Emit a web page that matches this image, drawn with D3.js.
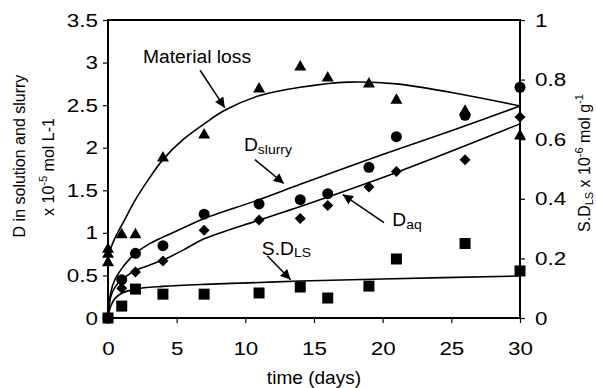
<!DOCTYPE html>
<html>
<head>
<meta charset="utf-8">
<script src="https://cdn.jsdelivr.net/npm/d3@7"></script>
<style>
  body { margin: 0; background: #fff; }
  svg { display: block; font-family: 'Liberation Sans', Arial, sans-serif; }
</style>
</head>
<body>
<div id="chart"></div>
<script>
// measured points, time in days
const matLossDays = [0, 0, 0, 1, 2, 4, 7, 11, 14, 16, 19, 21, 26, 30];
const matLossVals = [0.66, 0.76, 0.82, 0.99, 0.99, 1.89, 2.16, 2.70, 2.96, 2.83, 2.76, 2.57, 2.44, 2.15];

const sampleDays = [0, 1, 2, 4, 7, 11, 14, 16, 19, 21, 26, 30];
const slurryVals = [0, 0.45, 0.76, 0.85, 1.22, 1.34, 1.39, 1.46, 1.77, 2.13, 2.38, 2.71];
const aqVals = [0, 0.35, 0.54, 0.67, 1.03, 1.15, 1.17, 1.32, 1.54, 1.72, 1.86, 2.36];
// S.D_LS on the right axis (x 10^-6 mol/g)
const sdlsVals = [0, 0.04, 0.097, 0.08, 0.08, 0.084, 0.104, 0.067, 0.107, 0.198, 0.25, 0.158];

// fitted curves
const matLossFitDays = [0, 0.4, 1.2, 2, 3, 4, 5.5, 7, 8.5, 11, 14, 17.5, 21, 26, 30];
const matLossFitVals = [0.72, 0.9, 1.15, 1.39, 1.64, 1.86, 2.1, 2.28, 2.44, 2.61, 2.71, 2.77, 2.75, 2.62, 2.49];
const slurryFitDays = [0, 0.2, 0.5, 1, 1.5, 2, 3, 4, 5.5, 7, 11, 14, 20, 25, 30];
const slurryFitVals = [0, 0.3, 0.45, 0.58, 0.68, 0.76, 0.87, 0.95, 1.06, 1.17, 1.39, 1.57, 1.92, 2.2, 2.49];
const aqFitDays = [0, 0.2, 0.5, 1, 1.5, 2, 3, 4, 5.5, 7, 11, 14, 21, 30];
const aqFitVals = [0, 0.25, 0.36, 0.45, 0.51, 0.56, 0.62, 0.68, 0.8, 0.93, 1.15, 1.31, 1.71, 2.28];
const sdlsFitDays = [0, 0.2, 0.5, 1, 2, 4, 7, 11, 14, 20, 30];
const sdlsFitVals = [0, 0.04, 0.065, 0.083, 0.097, 0.106, 0.113, 0.119, 0.124, 0.131, 0.141];

const xTicks = [0, 5, 10, 15, 20, 25, 30];
const yLeftTicks = [0, 0.5, 1, 1.5, 2, 2.5, 3, 3.5];
const yRightTicks = [0, 0.2, 0.4, 0.6, 0.8, 1];

const width = 596;
const height = 388;
const margin = { top: 20, right: 76, bottom: 70, left: 108 };

const x = d3.scaleLinear().domain([0, 30]).range([margin.left, width - margin.right]);
const yL = d3.scaleLinear().domain([0, 3.5]).range([height - margin.bottom, margin.top]);
const yR = d3.scaleLinear().domain([0, 1]).range([height - margin.bottom, margin.top]);

const svg = d3.select('#chart').append('svg')
  .attr('width', width)
  .attr('height', height);

svg.append('defs').append('marker')
  .attr('id', 'head')
  .attr('viewBox', '0 0 10 10')
  .attr('refX', 10)
  .attr('refY', 5)
  .attr('markerWidth', 13)
  .attr('markerHeight', 10)
  .attr('markerUnits', 'userSpaceOnUse')
  .attr('orient', 'auto')
  .append('path')
  .attr('d', 'M0,0L10,5L0,10Z')
  .attr('fill', '#000');

// the figure's horizontal text is a little wider than plain Arial
function stretch(sel, k) {
  sel.each(function () {
    const t = d3.select(this);
    const ax = +t.attr('x') || 0;
    t.attr('transform', `translate(${ax * (1 - k)},0) scale(${k},1)`);
  });
}

const tickFont = 19;

// axes
const bottom = svg.append('g')
  .attr('transform', `translate(0,${yL(0)})`)
  .call(d3.axisBottom(x).tickValues(xTicks).tickSize(5).tickPadding(19));
const left = svg.append('g')
  .attr('transform', `translate(${x(0)},0)`)
  .call(d3.axisLeft(yL).tickValues(yLeftTicks).tickSize(5).tickPadding(5).tickFormat(d3.format('')));
const right = svg.append('g')
  .attr('transform', `translate(${x(30)},0)`)
  .call(d3.axisRight(yR).tickValues(yRightTicks).tickSize(5).tickPadding(10).tickFormat(d3.format('')));

[bottom, left, right].forEach(g => {
  g.select('.domain').remove();
  g.selectAll('line').attr('stroke', '#000').attr('stroke-width', 1.2);
  g.selectAll('text')
    .attr('font-size', tickFont)
    .attr('font-family', "'Liberation Sans', Arial, sans-serif")
    .attr('fill', '#000')
    .call(stretch, 1.18);
});

// frame
svg.append('rect')
  .attr('x', x(0))
  .attr('y', yL(3.5))
  .attr('width', x(30) - x(0))
  .attr('height', yL(0) - yL(3.5))
  .attr('fill', 'none')
  .attr('stroke', '#000')
  .attr('stroke-width', 2);

// fitted curves
const curves = [
  { days: matLossFitDays, vals: matLossFitVals, y: yL },
  { days: slurryFitDays, vals: slurryFitVals, y: yL },
  { days: aqFitDays, vals: aqFitVals, y: yL },
  { days: sdlsFitDays, vals: sdlsFitVals, y: yR },
];
curves.forEach(c => {
  const line = d3.line()
    .x(i => x(c.days[i]))
    .y(i => c.y(c.vals[i]))
    .curve(d3.curveCatmullRom.alpha(0.5));
  svg.append('path')
    .attr('d', line(d3.range(c.days.length)))
    .attr('fill', 'none')
    .attr('stroke', '#000')
    .attr('stroke-width', 1.6);
});

// markers
function drawPoints(days, vals, y, path) {
  svg.append('g')
    .selectAll('path')
    .data(d3.range(days.length))
    .join('path')
    .attr('transform', i => `translate(${x(days[i])},${y(vals[i])})`)
    .attr('d', path)
    .attr('fill', '#000');
}
drawPoints(sampleDays, sdlsVals, yR, 'M-5.5,-5.5H5.5V5.5H-5.5Z');
drawPoints(sampleDays, aqVals, yL, 'M0,-5.5L5.5,0L0,5.5L-5.5,0Z');
drawPoints(sampleDays, slurryVals, yL, d3.symbol().type(d3.symbolCircle).size(95)());
drawPoints(matLossDays, matLossVals, yL, 'M0,-6L6,4.5L-6,4.5Z');

// annotations (arrows drawn in data units)
const arrows = [
  { from: [6.7, 2.91], to: [8.5, 2.47] },
  { from: [10.7, 1.86], to: [12.8, 1.58] },
  { from: [20.1, 1.12], to: [17.1, 1.45] },
  { from: [11.6, 0.73], to: [13.3, 0.45] },
];
svg.append('g')
  .selectAll('line')
  .data(arrows)
  .join('line')
  .attr('x1', d => x(d.from[0]))
  .attr('y1', d => yL(d.from[1]))
  .attr('x2', d => x(d.to[0]))
  .attr('y2', d => yL(d.to[1]))
  .attr('stroke', '#000')
  .attr('stroke-width', 1.5)
  .attr('marker-end', 'url(#head)');

const notes = svg.append('g').attr('font-size', 18).attr('fill', '#000');
notes.append('text')
  .attr('x', x(2.55))
  .attr('y', yL(3.0))
  .text('Material loss');

const slurryNote = notes.append('text')
  .attr('x', x(9.9))
  .attr('y', yL(1.96));
slurryNote.append('tspan').text('D');
slurryNote.append('tspan').attr('font-size', 13).attr('dy', 3).text('slurry');

const aqNote = notes.append('text')
  .attr('x', x(20.7))
  .attr('y', yL(1.08));
aqNote.append('tspan').text('D');
aqNote.append('tspan').attr('font-size', 13).attr('dy', 3).text('aq');

const lsNote = notes.append('text')
  .attr('x', x(11.2))
  .attr('y', yL(0.74));
lsNote.append('tspan').text('S.D');
lsNote.append('tspan').attr('font-size', 13).attr('dy', 2).text('LS');

notes.selectAll('text').call(stretch, 1.07);

// axis titles
const xTitle = svg.append('text')
  .attr('x', x(15))
  .attr('y', 384)
  .attr('text-anchor', 'middle')
  .attr('font-size', 18)
  .text('time (days)')
  .call(stretch, 1.06);

const leftTitle = svg.append('g').attr('font-size', 16).attr('text-anchor', 'middle');
leftTitle.append('text')
  .attr('transform', 'translate(25,156) rotate(-90)')
  .text('D in solution and slurry');
const lt2 = leftTitle.append('text')
  .attr('transform', 'translate(54,167) rotate(-90)');
lt2.append('tspan').text('x 10');
lt2.append('tspan').attr('font-size', 11).attr('dy', -7).text('-5');
lt2.append('tspan').attr('dy', 7).text(' mol L-1');

const rt = svg.append('text')
  .attr('transform', 'translate(590,163) rotate(-90)')
  .attr('font-size', 16)
  .attr('text-anchor', 'middle');
rt.append('tspan').text('S.D');
rt.append('tspan').attr('font-size', 11).attr('dy', 3).text('LS');
rt.append('tspan').attr('dy', -3).text(' x 10');
rt.append('tspan').attr('font-size', 11).attr('dy', -7).text('-6');
rt.append('tspan').attr('dy', 7).text(' mol g');
rt.append('tspan').attr('font-size', 11).attr('dy', -7).text('-1');
</script>
</body>
</html>
